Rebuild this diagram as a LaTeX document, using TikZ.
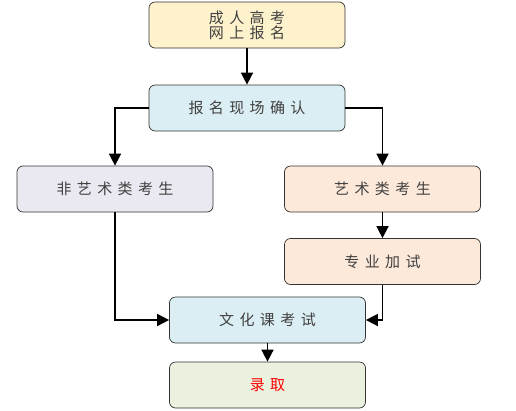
\documentclass[tikz,border=0pt]{standalone}
\usepackage{fontspec}
\usepackage{tikz}
\usetikzlibrary{arrows.meta,positioning}
\newfontfamily\cjk[LetterSpace=36]{Noto Sans CJK SC}
\definecolor{txtCol}{RGB}{64,64,64}
\definecolor{yelCol}{RGB}{254,242,204}
\definecolor{bluCol}{RGB}{219,238,243}
\definecolor{lavCol}{RGB}{234,232,240}
\definecolor{pchCol}{RGB}{252,233,218}
\definecolor{grnCol}{RGB}{234,241,222}
\tikzset{
  stepbox/.style={draw=black!80,line width=0.7pt,rounded corners=6pt,align=center,
                  minimum width=196pt,minimum height=46pt,inner sep=2pt,
                  font=\fontsize{15pt}{15pt}\cjk,text=txtCol},
  flow/.style={-{Triangle[length=12pt,width=12pt]},line width=1.5pt},
}
\begin{document}
\begin{tikzpicture}[x=1pt,y=-1pt]
      \useasboundingbox (0,0) rectangle (516,410);
      \node[stepbox,fill=yelCol] (enrol) at (247,25) {成人高考\\网上报名};
      \node[stepbox,fill=bluCol] (confirm) at (247,108) {报名现场确认};
      \node[stepbox,fill=lavCol] (nonart) at (115,189) {非艺术类考生};
      \node[stepbox,fill=pchCol] (art) at (382.5,189) {艺术类考生};
      \node[stepbox,fill=pchCol] (extra) at (382.5,261.5) {专业加试};
      \node[stepbox,fill=bluCol] (culture) at (267.5,320) {文化课考试};
      \node[stepbox,fill=grnCol,text=red] (admit) at (267.5,385) {录取};
      \draw[flow] (enrol) -- (confirm);
      \draw[flow] (confirm.west) -| (nonart.north);
      \draw[flow] (confirm.east) -| (art.north);
      \draw[flow] (art) -- (extra);
      \draw[flow] (nonart.south) |- (culture.west);
      \draw[flow] (extra.south) |- (culture.east);
      \draw[flow] (culture) -- (admit);
    \end{tikzpicture}
\end{document}
